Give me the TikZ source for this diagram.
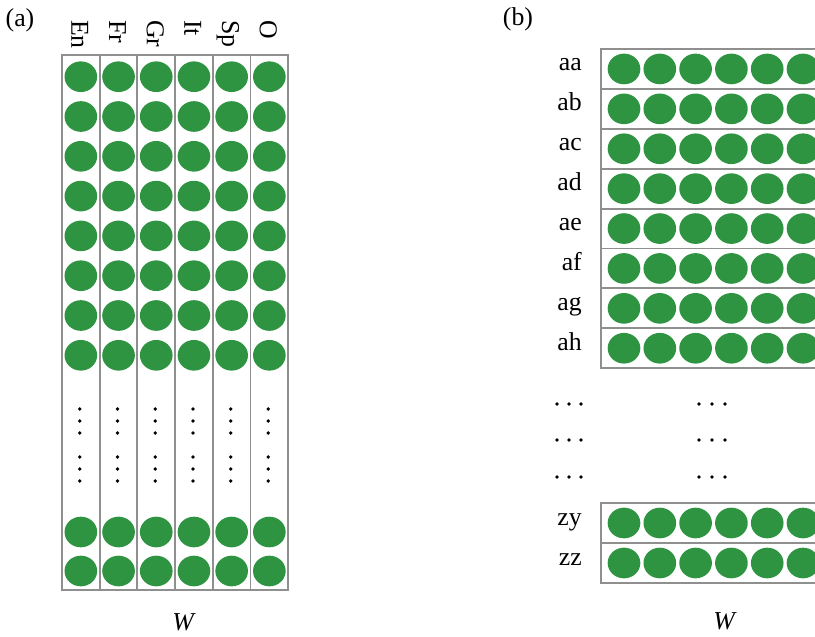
\documentclass[tikz,border=0pt]{standalone}
\usepackage{fontspec}
\setmainfont{Liberation Serif}
\usetikzlibrary{shapes.geometric, positioning, calc}
\definecolor{DotGreen}{HTML}{2E9442}
\definecolor{CellGray}{HTML}{8F8F8F}

\begin{document}
\begin{tikzpicture}[x=0.03cm, y=-0.03cm, font=\fontsize{22}{26}\selectfont,
        colbox/.style={rectangle, draw=CellGray, line width=1.6pt, minimum width=1.131cm, minimum height=16.05cm, inner sep=0pt},
        rowbox/.style={rectangle, draw=CellGray, line width=1.6pt, minimum width=7.2cm, minimum height=1.197cm, inner sep=0pt},
        dot/.style={ellipse, fill=DotGreen, minimum width=0.98cm, minimum height=0.92cm, inner sep=0pt},
        collabel/.style={rotate=-90, anchor=base west, inner sep=0pt},
        rowlabel/.style={anchor=base east, inner sep=0pt},
        pip/.style={circle, fill=black, minimum size=3.2pt, inner sep=0pt}]

        \clip (0,0) rectangle (815,636);

        % (a) one column per language
        \node (tagA) at (20,20) {(a)};
        \foreach \lang [count=\i, evaluate=\i as \cx using 80.85+37.7*(\i-1)] in {En,Fr,Gr,It,Sp,O} {
            \node[colbox] (col\i) at (\cx,322.5) {};
            \node[collabel] (lang\i) at (\cx-9.5,20) {\lang};
            \foreach \cy [count=\r] in {76.7,116.5,156.3,196.1,235.9,275.7,315.5,355.3,532,571}
                \node[dot] (a\i-\r) at (\cx,\cy) {};
            \foreach \cy in {409,421,433,457,469,481}
                \node[pip] at (\cx-1,\cy) {};
        }
        \node (wA) at (184,622) {\textit{W}};

        % (b) one row per bigram
        \node (tagB) at (518,19) {(b)};
        \foreach \pair [count=\k, evaluate=\k as \cy using 68.95+39.9*(\k-1)] in {aa,ab,ac,ad,ae,af,ag,ah} {
            \node[rowbox] (row\k) at (721,\cy) {};
            \node[rowlabel] (pair\k) at (582,\cy+2) {\pair};
            \foreach \j [evaluate=\j as \cx using 624+35.8*(\j-1)] in {1,...,6}
                \node[dot] (b\k-\j) at (\cx,\cy) {};
        }
        \foreach \pair/\cy [count=\k] in {zy/523, zz/563} {
            \node[rowbox] (last\k) at (721,\cy) {};
            \node[rowlabel] (lpair\k) at (582,\cy+2) {\pair};
            \foreach \j [evaluate=\j as \cx using 624+35.8*(\j-1)] in {1,...,6}
                \node[dot] (z\k-\j) at (\cx,\cy) {};
        }
        \foreach \cy in {404,440,477}
            \foreach \cx in {557,569,581,699,712,725}
                \node[pip] at (\cx,\cy) {};
        \node (wB) at (725,621) {\textit{W}};
    \end{tikzpicture}
\end{document}
